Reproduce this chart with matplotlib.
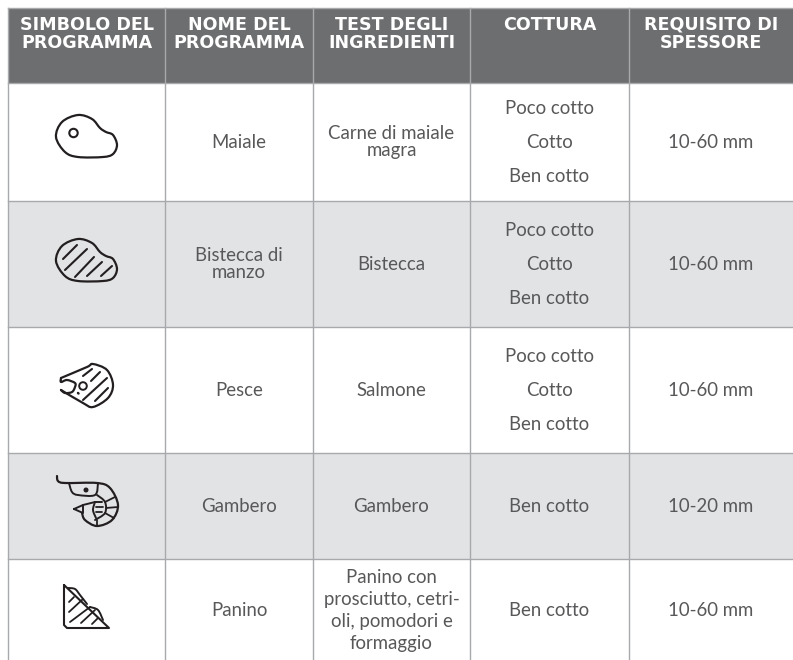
#Importando as bibliotecas
import matplotlib
matplotlib.use("Agg")
import matplotlib.pyplot as plt
from matplotlib.path import Path
from matplotlib.patches import PathPatch, Rectangle, Circle

#Dados da tabela
intestazioni = ["SIMBOLO DEL\nPROGRAMMA", "NOME DEL\nPROGRAMMA", "TEST DEGLI\nINGREDIENTI", "COTTURA", "REQUISITO DI\nSPESSORE"]
nomi = ["Maiale", "Bistecca di\nmanzo", "Pesce", "Gambero", "Panino"]
ingredienti = ["Carne di maiale\nmagra", "Bistecca", "Salmone", "Gambero", "Panino con\nprosciutto, cetri-\noli, pomodori e\nformaggio"]
cotture = [["Poco cotto", "Cotto", "Ben cotto"], ["Poco cotto", "Cotto", "Ben cotto"], ["Poco cotto", "Cotto", "Ben cotto"], ["Ben cotto"], ["Ben cotto"]]
spessori = ["10-60 mm", "10-60 mm", "10-60 mm", "10-20 mm", "10-60 mm"]

#Layout em pixels
colonne = [8, 165, 313, 470, 629, 793]
righe = [8, 83, 201, 327, 453, 559, 662]
GRIGIO_H = "#6d6e70"
GRIGIO_R = "#e2e3e5"
LINEA = "#a7a9ac"
NERO = "#231f20"
CORPO = "#58585a"

fig = plt.figure(figsize=(7.93, 6.6), dpi=100)
ax = fig.add_axes([0, 0, 1, 1])
ax.set_xlim(0, 793)
ax.set_ylim(660, 0)
ax.axis("off")

def curva(punti, lw=1.6, chiudi=False):
    #linha suave passando por pontos de controle (Catmull-Rom)
    p = list(punti)
    n = len(p)
    verts = [p[0]]
    codes = [Path.MOVETO]
    fine = n if chiudi else n - 1
    for i in range(fine):
        p0 = p[(i - 1) % n] if (chiudi or i > 0) else p[i]
        p1 = p[i]
        p2 = p[(i + 1) % n]
        p3 = p[(i + 2) % n] if (chiudi or i + 2 < n) else p2
        c1 = (p1[0] + (p2[0] - p0[0]) / 6, p1[1] + (p2[1] - p0[1]) / 6)
        c2 = (p2[0] - (p3[0] - p1[0]) / 6, p2[1] - (p3[1] - p1[1]) / 6)
        verts += [c1, c2, p2]
        codes += [Path.CURVE4, Path.CURVE4, Path.CURVE4]
    ax.add_patch(PathPatch(Path(verts, codes), fc="none", ec=NERO, lw=lw, capstyle="round", joinstyle="round", zorder=5))

def retta(punti, lw=1.5):
    xs = [q[0] for q in punti]
    ys = [q[1] for q in punti]
    ax.plot(xs, ys, color=NERO, lw=lw, solid_capstyle="round", solid_joinstyle="round", zorder=5)

def carne(dy):
    sagoma = [(56, 137), (62, 122), (78, 115), (92, 119), (100, 128), (106, 132), (113, 135), (117, 145), (113, 154), (103, 157), (78, 157), (65, 152)]
    curva([(x, y + dy) for x, y in sagoma], chiudi=True)

#Icones
def icona_maiale():
    carne(0)
    ax.add_patch(Circle((73.5, 133), 4.2, fc="none", ec=NERO, lw=1.5, zorder=5))

def icona_bistecca():
    carne(124)
    for a, b in [((63, 259), (77, 245)), ((65, 270), (87, 249)), ((75, 277), (94, 257)), ((87, 276), (102, 262)), ((101, 276), (112, 266))]:
        retta([a, b])

def icona_pesce():
    curva([(61, 378), (87, 367), (93, 364), (107, 370), (113, 385), (108, 398), (93, 407), (83, 403), (61, 390)])
    curva([(61, 378), (61, 382), (67, 380), (75, 383), (75, 387), (72, 392), (65, 393), (61, 390)])
    ax.add_patch(Circle((83, 386), 3.8, fc="none", ec=NERO, lw=1.4, zorder=5))
    retta([(78, 393), (78.5, 393.5)], lw=1.8)
    for a, b in [((83, 376), (92, 369)), ((91, 381), (100, 372)), ((83, 400), (107, 378)), ((95, 401), (108, 388))]:
        retta([a, b])

def icona_gambero():
    curva([(57, 476), (58, 481), (65, 483), (97, 483), (110, 488), (118, 505), (112, 520), (97, 526), (85, 520), (82, 513)])
    curva([(69, 483), (72, 492), (78, 495), (95, 495), (98, 483)], lw=1.4)
    ax.add_patch(Circle((86, 490), 1.8, fc=NERO, ec=NERO, lw=1, zorder=5))
    retta([(74, 509), (83, 505), (83, 513), (74, 509)], lw=1.4)
    retta([(83, 505), (95, 502), (102, 502)], lw=1.4)
    curva([(95, 502), (93, 510), (96, 518)], lw=1.4)
    curva([(97, 495), (105, 502), (105, 513), (95, 520)], lw=1.4)
    for a, b in [((96, 507), (103, 507)), ((96, 512), (102, 512)), ((105, 502), (115, 497)), ((106, 508), (118, 507)), ((105, 513), (114, 518)), ((97, 520), (97, 526))]:
        retta([a, b], lw=1.3)

def icona_panino():
    retta([(64, 585), (64, 625), (67, 628), (109, 628), (64, 585)])
    curva([(68, 588), (75, 589), (80, 595), (87, 604)], lw=1.4)
    curva([(90, 607), (98, 610), (103, 620)], lw=1.4)
    for a, b in [((69, 602), (74, 597)), ((69, 612), (83, 599)), ((70, 622), (90, 607)), ((81, 623), (95, 610)), ((92, 624), (98, 618))]:
        retta([a, b], lw=1.3)

#Fundos
ax.add_patch(Rectangle((colonne[0], righe[0]), colonne[-1] - colonne[0], righe[1] - righe[0], fc=GRIGIO_H, ec="none"))
for i in [1, 3]:
    ax.add_patch(Rectangle((colonne[0], righe[i + 1]), colonne[-1] - colonne[0], righe[i + 2] - righe[i + 1], fc=GRIGIO_R, ec="none"))

#Linhas da grade
for x in colonne[:-1]:
    ax.plot([x, x], [righe[0], 660], color=LINEA, lw=1)
for y in righe[:-1]:
    ax.plot([colonne[0], colonne[-1]], [y, y], color=LINEA, lw=1)

#Cabecalho
for j, testo in enumerate(intestazioni):
    xc = (colonne[j] + colonne[j + 1]) / 2
    ax.text(xc, 16, testo, ha="center", va="top", color="white", fontsize=12.6, family="DejaVu Sans", weight="bold", linespacing=1.0)

#Corpo da tabela
corpo = dict(ha="center", va="center", color=CORPO, fontsize=13.4, family="Lato")
for i in range(5):
    yc = (righe[i + 1] + righe[i + 2]) / 2
    ax.text((colonne[1] + colonne[2]) / 2, yc, nomi[i], linespacing=1.0, **corpo)
    passo = 1.36 if i == 4 else 1.0
    ax.text((colonne[2] + colonne[3]) / 2, yc, ingredienti[i], linespacing=passo, **corpo)
    ax.text((colonne[4] + colonne[5]) / 2, yc, spessori[i], **corpo)
    xc = (colonne[3] + colonne[4]) / 2
    if len(cotture[i]) == 3:
        for k, c in enumerate(cotture[i]):
            ax.text(xc, yc + (k - 1) * 34, c, **corpo)
    else:
        ax.text(xc, yc, cotture[i][0], **corpo)

icona_maiale()
icona_bistecca()
icona_pesce()
icona_gambero()
icona_panino()

fig.savefig("out.png", dpi=100)
